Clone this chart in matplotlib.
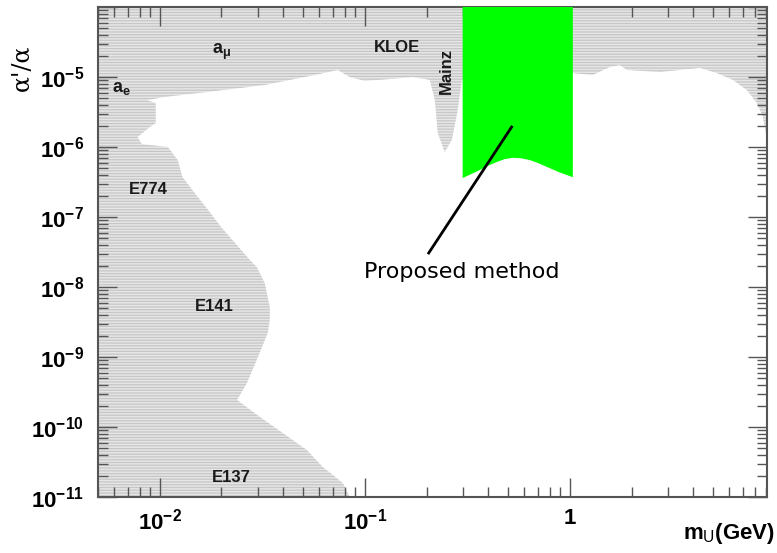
import matplotlib
matplotlib.use("Agg")
import matplotlib.pyplot as plt
from matplotlib.ticker import LogLocator, FuncFormatter, NullFormatter
import numpy as np

plt.rcParams["font.family"] = ["Liberation Sans", "DejaVu Sans"]
plt.rcParams["mathtext.fontset"] = "custom"
plt.rcParams["mathtext.rm"] = "Liberation Sans"
plt.rcParams["mathtext.it"] = "Liberation Sans:bold"
plt.rcParams["mathtext.bf"] = "Liberation Sans:bold"
plt.rcParams["hatch.linewidth"] = 0.9

# upper exclusion limit (a_mu, KLOE, Mainz, BaBar): mass [GeV], alpha'/alpha
upper_mass = [0.005, 0.0078, 0.0106, 0.017, 0.0325, 0.057, 0.0738, 0.0845, 0.1,
              0.118, 0.171, 0.2075, 0.2196, 0.227, 0.2455, 0.2656, 0.284, 0.297,
              1.034, 1.295, 1.567, 1.753, 1.897, 2.748, 4.306, 5.21, 6.24, 7.30,
              8.17, 8.74, 9.15]
upper_eps = [4.4e-6, 4.4e-6, 5.2e-6, 6.1e-6, 7.7e-6, 1.07e-5, 1.26e-5, 1.0e-5, 8.8e-6,
             9.1e-6, 1.0e-5, 9.1e-6, 4.7e-6, 1.58e-6, 8.5e-7, 1.26e-6, 3.4e-6, 9.1e-6,
             1.14e-5, 1.07e-5, 1.39e-5, 1.48e-5, 1.26e-5, 1.18e-5, 1.35e-5, 1.14e-5,
             9.1e-6, 6.5e-6, 4.25e-6, 2.7e-6, 1.26e-6]

# beam dump / a_e limits (E137, E141, E774, a_e): alpha'/alpha, mass [GeV]
dump_eps = [1e-11, 1.58e-11, 2.68e-11, 4.69e-11, 8.2e-11, 1.39e-10, 2.43e-10, 4.25e-10,
            9.06e-10, 2.2e-9, 3.4e-9, 5.18e-9, 1.14e-8, 1.93e-8, 2.43e-8, 7.2e-8,
            1.26e-7, 2.2e-7, 3.73e-7, 6.5e-7, 1.0e-6, 1.1e-6, 1.39e-6, 1.93e-6,
            2.2e-6, 4.25e-6, 5.0e-6]
dump_mass = [0.0845, 0.0781, 0.0624, 0.0521, 0.0398, 0.0308, 0.0238, 0.0266,
             0.0297, 0.0336, 0.0344, 0.0344, 0.0325, 0.0297, 0.0275, 0.0199,
             0.0172, 0.0148, 0.0129, 0.01224, 0.01094, 0.00817, 0.0078, 0.00894,
             0.00956, 0.00956, 0.0080]

# reach of the proposed measurement
prop_mass = [0.3, 0.33, 0.364, 0.40, 0.44, 0.48, 0.527, 0.58, 0.638, 0.70, 0.772, 0.88, 1.034]
prop_eps = [3.6e-7, 4.1e-7, 4.7e-7, 5.4e-7, 6.1e-7, 6.7e-7, 7.0e-7, 6.9e-7, 6.5e-7,
            5.9e-7, 5.2e-7, 4.4e-7, 3.7e-7]

labels = ["KLOE", "E774", "E141", "E137"]
label_mass = [0.143, 0.00884, 0.01854, 0.02245]
label_eps = [2.6e-5, 2.5e-7, 5.2e-9, 1.93e-11]

xmin, xmax = 0.005, 9.15
ymin, ymax = 1e-11, 1e-4

fig = plt.figure(figsize=(7.77, 5.53), dpi=100)
ax = fig.add_axes([98 / 777, 56 / 553, 669 / 777, 490 / 553])
ax.set_xscale("log")
ax.set_yscale("log")
ax.set_xlim(xmin, xmax)
ax.set_ylim(ymin, ymax)

shade = dict(facecolor="#e6e6e6", edgecolor="#c6c6c6", hatch="------", linewidth=0)
ax.fill_between(upper_mass, upper_eps, ymax, **shade)
ax.fill_betweenx(dump_eps, xmin, dump_mass, **shade)

ax.fill_between(prop_mass, prop_eps, ymax, facecolor="#00ff00", edgecolor="none", zorder=3)

# pointer to the green band
ax.plot([0.52, 0.205], [1.93e-6, 3.06e-8], color="black", lw=2, zorder=4)
ax.text(0.297, 1.64e-8, "Proposed method", family="DejaVu Sans", fontsize=16,
        ha="center", va="center", zorder=4)

for txt, m, e in zip(labels, label_mass, label_eps):
    ax.text(m, e, txt, fontsize=12, fontweight="bold", ha="center", va="center",
            color="#1a1a1a", zorder=4)
ax.text(0.02, 2.3e-5, r"a$_{\mathbf{\mu}}$", fontsize=13, fontweight="bold",
        ha="center", va="center", color="#1a1a1a")
ax.text(0.00653, 6.8e-6, r"a$_{\mathbf{e}}$", fontsize=13, fontweight="bold",
        ha="center", va="center", color="#1a1a1a")
ax.text(0.251, 1.22e-5, "Mainz", fontsize=12, fontweight="bold", rotation=90,
        ha="center", va="center", color="#1a1a1a", zorder=4)


def decade_label(v):
    if abs(v - 1) < 1e-9:
        return r"$\mathbf{1}$"
    return r"$\mathbf{10^{%d}}$" % round(np.log10(v))


def x_label(v, pos):
    if v < xmin or v > xmax:
        return ""
    return decade_label(v)


def y_label(v, pos):
    # the top decade is left unlabelled
    if v < ymin or v > 2e-5:
        return ""
    return decade_label(v)


for axis, fmt in ((ax.xaxis, x_label), (ax.yaxis, y_label)):
    axis.set_major_locator(LogLocator(base=10, numticks=20))
    axis.set_minor_locator(LogLocator(base=10, subs=np.arange(2, 10), numticks=100))
    axis.set_major_formatter(FuncFormatter(fmt))
    axis.set_minor_formatter(NullFormatter())

edge = "#555555"
ax.tick_params(which="both", direction="in", top=True, right=True, color=edge,
               width=1.0, labelsize=16)
ax.tick_params(which="major", length=14)
ax.tick_params(which="minor", length=7)
ax.tick_params(axis="x", pad=8)
ax.tick_params(axis="y", pad=10)
for s in ax.spines.values():
    s.set_color(edge)
    s.set_linewidth(1.5)

fig.text(22 / 777, 1 - 68 / 553, "α'/α", family="DejaVu Serif", fontsize=17,
         rotation=90, ha="center", va="center")
fig.text(775 / 777, 1 - 533 / 553, r"m$_{\mathrm{U}}$(GeV)", fontsize=16,
         fontweight="bold", ha="right", va="center")

fig.savefig("out.png", dpi=100)
